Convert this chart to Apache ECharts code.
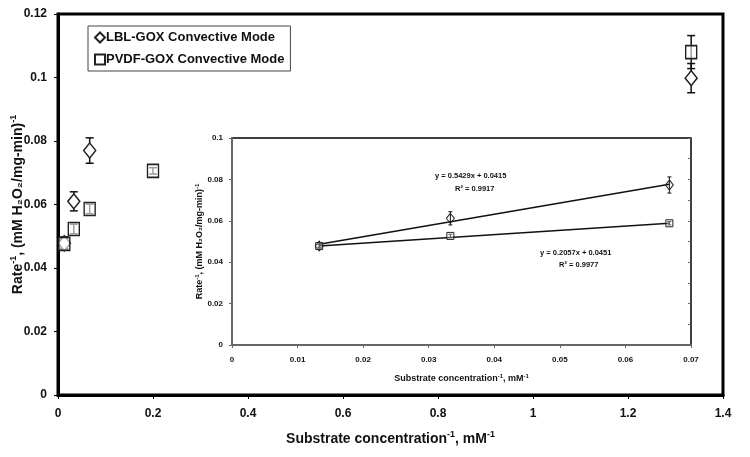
<!DOCTYPE html>
<html><head><meta charset="utf-8">
<script src="https://cdn.jsdelivr.net/npm/echarts@6/dist/echarts.min.js"></script>
<style>html,body{margin:0;padding:0;background:#fff}#c{width:750px;height:457px}</style>
</head><body><div id="c"></div>
<script>
// Main chart data
const lblX = [0.0133, 0.0333, 0.0667, 1.333];
const lblY = [0.0478, 0.0610, 0.0770, 0.0998];
const lblErr = [0.0020, 0.0030, 0.0040, 0.0046];
const pvdfX = [0.0133, 0.0333, 0.0667, 0.2, 1.333];
const pvdfY = [0.0476, 0.0523, 0.0586, 0.0706, 0.1080];
const pvdfErr = [0.0015, 0.0015, 0.0015, 0.0010, 0.0052];
// Inset data
const insetX = [0.0133, 0.0333, 0.0667];
const insetLbl = [0.0478, 0.0612, 0.0773];
const insetLblErr = [0.0015, 0.0032, 0.0039];
const insetPvdf = [0.0478, 0.0527, 0.0588];
const insetPvdfErr = [0.0008, 0.0008, 0.0008];
const trendX = [0.0133, 0.0667];
const lblTrendY = [0.0487, 0.0777];
const pvdfTrendY = [0.0478, 0.0588];
const eqLbl = ['y = 0.5429x + 0.0415', 'R² = 0.9917'];
const eqPvdf = ['y = 0.2057x + 0.0451', 'R² = 0.9977'];
const legendNames = ['LBL-GOX Convective Mode', 'PVDF-GOX Convective Mode'];

const F = 'Liberation Sans, Arial, sans-serif';
const pts = (xs, ys) => xs.map((x, i) => [x, ys[i]]);
const errs = (xs, ys, es) => xs.map((x, i) => [x, ys[i] - es[i], ys[i] + es[i]]);
function errRender(cap, lw) {
  return function (params, api) {
    const x = api.value(0), lo = api.value(1), hi = api.value(2);
    const a = api.coord([x, lo]), b = api.coord([x, hi]);
    const st = { stroke: '#111', lineWidth: lw };
    return { type: 'group', children: [
      { type: 'line', shape: { x1: a[0], y1: a[1], x2: b[0], y2: b[1] }, style: st },
      { type: 'line', shape: { x1: a[0] - cap, y1: a[1], x2: a[0] + cap, y2: a[1] }, style: st },
      { type: 'line', shape: { x1: b[0] - cap, y1: b[1], x2: b[0] + cap, y2: b[1] }, style: st }
    ] };
  };
}
const richMain = { a: { fontFamily: F, fontWeight: 'bold', fontSize: 14, color: '#111', lineHeight: 18 },
                   s: { fontFamily: F, fontWeight: 'bold', fontSize: 9, color: '#111', verticalAlign: 'top', lineHeight: 18 } };
const richIn = { a: { fontFamily: F, fontWeight: 'bold', fontSize: 9, color: '#111', lineHeight: 12 },
                 s: { fontFamily: F, fontWeight: 'bold', fontSize: 6, color: '#111', verticalAlign: 'top', lineHeight: 12 } };
const lblStyle = { fontFamily: F, fontWeight: 'bold', color: '#111' };

const chart = echarts.init(document.getElementById('c'), null, { renderer: 'canvas' });
chart.setOption({
  animation: false,
  backgroundColor: '#fff',
  grid: [
    { left: 58, top: 14, width: 665, height: 381, show: true, borderColor: '#000', borderWidth: 3, backgroundColor: 'transparent',
      outerBoundsMode: 'none', containLabel: false },
    { left: 232, top: 138, width: 459, height: 207, show: true, borderColor: '#000', borderWidth: 1.5, backgroundColor: '#fff',
      outerBoundsMode: 'none', containLabel: false }
  ],
  legend: {
    data: legendNames, orient: 'vertical', left: 88, top: 26,
    itemWidth: 10, itemHeight: 10, itemGap: 9, padding: [5, 6, 5, 6],
    borderColor: '#444', borderWidth: 1, backgroundColor: '#fff',
    textStyle: { fontFamily: F, fontWeight: 'bold', fontSize: 13, color: '#111', padding: [0, 0, 0, -4] }
  },
  xAxis: [
    { gridIndex: 0, type: 'value', min: 0, max: 1.4, interval: 0.2,
      axisLine: { lineStyle: { color: '#000', width: 3 } }, axisTick: { length: 4, lineStyle: { color: '#000' } },
      splitLine: { show: false }, axisLabel: Object.assign({ fontSize: 12, margin: 13 }, lblStyle),
      name: '{a|Substrate concentration}{s|-1}{a|, mM}{s|-1}', nameLocation: 'middle', nameGap: 35, nameMoveOverlap: false,
      nameTextStyle: { rich: richMain } },
    { gridIndex: 1, type: 'value', min: 0, max: 0.07, interval: 0.01,
      axisLine: { lineStyle: { color: '#666', width: 2 } }, axisTick: { length: 3, lineStyle: { color: '#666' } },
      splitLine: { show: false }, axisLabel: Object.assign({ fontSize: 8, margin: 11 }, lblStyle),
      name: '{a|Substrate concentration}{s|-1}{a|, mM}{s|-1}', nameLocation: 'middle', nameGap: 28, nameMoveOverlap: false,
      nameTextStyle: { rich: richIn } }
  ],
  yAxis: [
    { gridIndex: 0, type: 'value', min: 0, max: 0.12, interval: 0.02,
      axisLine: { lineStyle: { color: '#000', width: 3 } }, axisTick: { length: 4, lineStyle: { color: '#000' } },
      splitLine: { show: false }, axisLabel: Object.assign({ fontSize: 12, margin: 11 }, lblStyle),
      name: '{a|Rate}{s|-1}{a|, (mM H₂O₂/mg-min)}{s|-1}', nameLocation: 'middle', nameGap: 31, nameRotate: 90, nameMoveOverlap: false,
      nameTextStyle: { rich: richMain } },
    { gridIndex: 1, type: 'value', min: 0, max: 0.1, interval: 0.02,
      axisLine: { lineStyle: { color: '#666', width: 2 } }, axisTick: { length: 3, lineStyle: { color: '#666' } },
      splitLine: { show: false }, axisLabel: Object.assign({ fontSize: 8, margin: 9 }, lblStyle),
      name: '{a|Rate}{s|-1}{a|, (mM H₂O₂/mg-min)}{s|-1}', nameLocation: 'middle', nameGap: 26, nameRotate: 90, nameMoveOverlap: false,
      nameTextStyle: { rich: richIn } },
    { gridIndex: 1, type: 'value', min: 0, max: 0.1, interval: 0.01, position: 'right',
      axisLine: { show: false }, axisTick: { inside: true, length: 3, lineStyle: { color: '#666' } },
      axisLabel: { show: false }, splitLine: { show: false } }
  ],
  graphic: [
    { type: 'text', left: 435, top: 172, style: { text: eqLbl[0], font: 'bold 7.5px ' + F, fill: '#111' } },
    { type: 'text', left: 455, top: 185, style: { text: eqLbl[1], font: 'bold 7.5px ' + F, fill: '#111' } },
    { type: 'text', left: 540, top: 249, style: { text: eqPvdf[0], font: 'bold 7.5px ' + F, fill: '#111' } },
    { type: 'text', left: 559, top: 261, style: { text: eqPvdf[1], font: 'bold 7.5px ' + F, fill: '#111' } }
  ],
  series: [
    { type: 'custom', xAxisIndex: 0, yAxisIndex: 0, renderItem: errRender(4, 1.5), data: errs(lblX, lblY, lblErr), z: 2 },
    { type: 'custom', xAxisIndex: 0, yAxisIndex: 0, renderItem: errRender(4, 1.5), data: errs(pvdfX, pvdfY, pvdfErr), z: 2 },
    { name: legendNames[0], type: 'scatter', xAxisIndex: 0, yAxisIndex: 0, symbol: 'diamond', symbolSize: [12, 15],
      itemStyle: { color: '#fff', borderColor: '#222', borderWidth: 1.5, opacity: 1 }, data: pts(lblX, lblY), z: 3 },
    { name: legendNames[1], type: 'scatter', xAxisIndex: 0, yAxisIndex: 0, symbol: 'rect', symbolSize: [11, 13],
      itemStyle: { color: 'rgba(255,255,255,0.6)', borderColor: '#222', borderWidth: 1.5, opacity: 1 }, data: pts(pvdfX, pvdfY), z: 3 },
    { type: 'line', xAxisIndex: 1, yAxisIndex: 1, data: pts(trendX, lblTrendY), showSymbol: false, symbol: 'none',
      lineStyle: { color: '#111', width: 1.5 }, z: 2 },
    { type: 'line', xAxisIndex: 1, yAxisIndex: 1, data: pts(trendX, pvdfTrendY), showSymbol: false, symbol: 'none',
      lineStyle: { color: '#111', width: 1.5 }, z: 2 },
    { type: 'custom', xAxisIndex: 1, yAxisIndex: 1, renderItem: errRender(2, 1), data: errs(insetX, insetLbl, insetLblErr), z: 3 },
    { type: 'custom', xAxisIndex: 1, yAxisIndex: 1, renderItem: errRender(2, 1), data: errs(insetX, insetPvdf, insetPvdfErr), z: 3 },
    { type: 'scatter', xAxisIndex: 1, yAxisIndex: 1, symbol: 'diamond', symbolSize: [8, 10],
      itemStyle: { color: 'rgba(255,255,255,0)', borderColor: '#222', borderWidth: 1, opacity: 1 }, data: pts(insetX, insetLbl), z: 4 },
    { type: 'scatter', xAxisIndex: 1, yAxisIndex: 1, symbol: 'rect', symbolSize: [7, 7],
      itemStyle: { color: 'rgba(255,255,255,0.3)', borderColor: '#222', borderWidth: 1, opacity: 1 }, data: pts(insetX, insetPvdf), z: 4 }
  ]
});
</script></body></html>
